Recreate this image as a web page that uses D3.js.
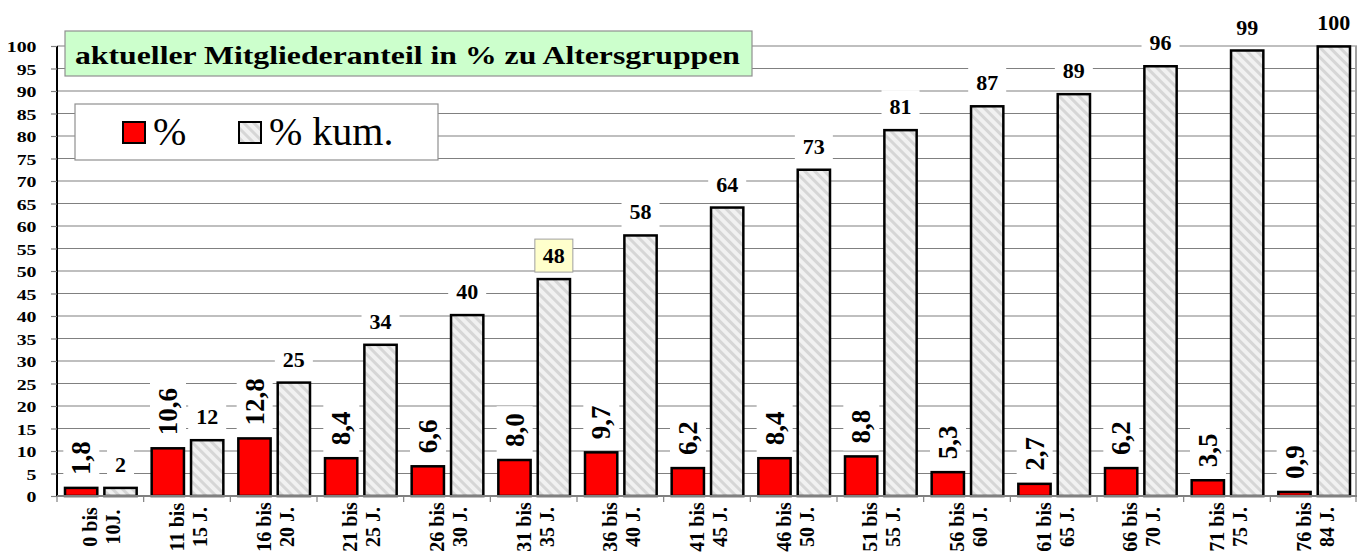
<!DOCTYPE html>
<html>
<head>
<meta charset="utf-8">
<script src="https://cdn.jsdelivr.net/npm/d3@7"></script>
<style>
  body { margin: 0; background: #fff; }
  svg text { font-family: "Liberation Serif", "Times New Roman", Times, serif; }
</style>
</head>
<body>
<div id="chart"></div>
<script>
/* DATA */
const ageFrom = ["0 bis", "11 bis", "16 bis", "21 bis", "26 bis", "31 bis", "36 bis", "41 bis",
                 "46 bis", "51 bis", "56 bis", "61 bis", "66 bis", "71 bis", "76 bis"];
const ageTo = ["10J.", "15 J.", "20 J.", "25 J.", "30 J.", "35 J.", "40 J.", "45 J.",
               "50 J.", "55 J.", "60 J.", "65 J.", "70 J.", "75 J.", "84 J."];
const pct = [1.8, 10.6, 12.8, 8.4, 6.6, 8.0, 9.7, 6.2, 8.4, 8.8, 5.3, 2.7, 6.2, 3.5, 0.9];
const pctKum = [1.8, 12.4, 25.2, 33.6, 40.2, 48.2, 57.9, 64.1, 72.5, 81.3, 86.6, 89.3, 95.5, 99.0, 99.9];
const yTicks = d3.range(0, 101, 5);
const seriesNames = ["%", "% kum."];
const title = "aktueller Mitgliederanteil in % zu Altersgruppen";
const highlightIndex = 5;

/* CONSTANTS */
const width = 1361, height = 555;
const m = { top: 46, bottom: 59, left: 57, right: 4 };
const gridColor = "#808080";

const svg = d3.select("#chart").append("svg")
  .attr("width", width)
  .attr("height", height);

const defs = svg.append("defs");
const hatch = defs.append("pattern")
  .attr("id", "hatch")
  .attr("patternUnits", "userSpaceOnUse")
  .attr("width", 7)
  .attr("height", 7)
  .attr("patternTransform", "rotate(-45)");
hatch.append("rect").attr("width", 7).attr("height", 7).attr("fill", "#f1f1f1");
hatch.append("rect").attr("width", 3).attr("height", 7).attr("fill", "#d6d6d6");

/* SCALES */
const cats = d3.range(ageFrom.length);
const x = d3.scaleBand()
  .domain(cats)
  .range([m.left, width - m.right]);

const xSub = d3.scaleBand()
  .domain(["pct", "kum"])
  .range([8, x.bandwidth() - 7])
  .paddingInner(0.18);

const y = d3.scaleLinear()
  .domain([0, 100])
  .range([height - m.bottom, m.top]);

// GRIDLINES
svg.append("g")
  .selectAll("line")
  .data(yTicks.filter(d => d > 0))
  .join("line")
  .attr("x1", m.left)
  .attr("x2", width - m.right)
  .attr("y1", d => y(d))
  .attr("y2", d => y(d))
  .attr("stroke", gridColor)
  .attr("stroke-width", 1.2);

// right border of plot area
svg.append("line")
  .attr("x1", width - m.right - 1).attr("x2", width - m.right - 1)
  .attr("y1", y(100)).attr("y2", y(0))
  .attr("stroke", "#a0a0a0").attr("stroke-width", 2);

// LABEL LAYER (white backgrounds that cut the gridlines)
const labelBg = svg.append("g");

// BARS
const groups = svg.append("g")
  .selectAll("g")
  .data(cats)
  .join("g")
  .attr("transform", i => `translate(${x(i)},0)`);

groups.append("rect")
  .attr("x", xSub("pct"))
  .attr("width", xSub.bandwidth())
  .attr("y", i => y(pct[i]))
  .attr("height", i => y(0) - y(pct[i]))
  .attr("fill", "#ff0000")
  .attr("stroke", "#000")
  .attr("stroke-width", 2.5);

groups.append("rect")
  .attr("x", xSub("kum"))
  .attr("width", xSub.bandwidth())
  .attr("y", i => y(pctKum[i]))
  .attr("height", i => y(0) - y(pctKum[i]))
  .attr("fill", "url(#hatch)")
  .attr("stroke", "#000")
  .attr("stroke-width", 2.5);

// VALUE LABELS
const fmt1 = d3.format(".1f");
const pctLabels = groups.append("text")
  .attr("transform", i => `translate(${xSub("pct") + xSub.bandwidth() / 2},${y(pct[i]) - 13}) rotate(-90)`)
  .attr("dy", "0.34em")
  .attr("font-size", 27)
  .attr("font-weight", "bold")
  .text(i => fmt1(pct[i]).replace(".", ","));

const kumLabels = groups.append("text")
  .attr("x", xSub("kum") + xSub.bandwidth() / 2)
  .attr("y", i => y(pctKum[i]) - 16)
  .attr("text-anchor", "middle")
  .attr("font-size", 22)
  .attr("font-weight", "bold")
  .text(i => d3.format(".0f")(pctKum[i]));

// white boxes behind labels, yellow box for the highlighted one
function addBg(sel, padX, padY) {
  sel.each(function(i) {
    const b = this.getBBox();
    const ctm = this.getCTM();
    const p1 = new DOMPoint(b.x, b.y).matrixTransform(ctm);
    const p2 = new DOMPoint(b.x + b.width, b.y + b.height).matrixTransform(ctm);
    const x0 = Math.min(p1.x, p2.x), x1 = Math.max(p1.x, p2.x);
    const y0 = Math.min(p1.y, p2.y), y1 = Math.max(p1.y, p2.y);
    const hl = sel === kumLabels && i === highlightIndex;
    labelBg.append("rect")
      .attr("x", x0 - padX)
      .attr("y", y0 - padY)
      .attr("width", x1 - x0 + padX * 2)
      .attr("height", y1 - y0 + padY * 2)
      .attr("fill", hl ? "#ffffcc" : "#fff")
      .attr("stroke", hl ? "#a0a0a0" : "none")
      .attr("stroke-width", 1);
  });
}
addBg(pctLabels, 3, 7);
addBg(kumLabels, 8, 4);

// Y AXIS (tick labels are stretched wide like in the original)
const yAxis = svg.append("g")
  .attr("transform", `translate(${m.left},0)`)
  .call(d3.axisLeft(y).tickValues(yTicks).tickSize(6).tickPadding(10));
yAxis.select(".domain").attr("stroke", "#000").attr("stroke-width", 2).attr("d", `M0,${y(0)}V${y(100)}`);
yAxis.selectAll(".tick line").attr("stroke", gridColor).attr("stroke-width", 1.2);
yAxis.selectAll(".tick text")
  .attr("font-family", "'Liberation Serif', 'Times New Roman', serif")
  .attr("font-size", 15.5)
  .attr("font-weight", "bold")
  .attr("fill", "#000")
  .attr("dy", "0.36em")
  .attr("transform", "scale(1.28,1)");

// X AXIS (baseline + boundary ticks)
svg.append("line")
  .attr("x1", m.left).attr("x2", width - m.right)
  .attr("y1", y(0)).attr("y2", y(0))
  .attr("stroke", gridColor).attr("stroke-width", 2);
svg.append("g")
  .selectAll("line")
  .data(cats.concat([cats.length]))
  .join("line")
  .attr("x1", i => i < cats.length ? x(i) : width - m.right - 1)
  .attr("x2", i => i < cats.length ? x(i) : width - m.right - 1)
  .attr("y1", y(0))
  .attr("y2", y(0) + 6)
  .attr("stroke", gridColor)
  .attr("stroke-width", 1.2);

const catLabels = svg.append("g")
  .selectAll("text")
  .data(cats)
  .join("text")
  .attr("transform", i => `translate(${x(i) + x.bandwidth() / 2},527) rotate(-90)`)
  .attr("text-anchor", "middle")
  .attr("font-size", 20)
  .attr("font-weight", "bold");
catLabels.append("tspan").attr("x", 0).attr("y", -3).text(i => ageFrom[i]);
catLabels.append("tspan").attr("x", 0).attr("y", 20).text(i => ageTo[i]);

// TITLE BOX
svg.append("rect")
  .attr("x", 65).attr("y", 31)
  .attr("width", 687).attr("height", 45)
  .attr("fill", "#ccffcc")
  .attr("stroke", "#909090")
  .attr("stroke-width", 1.2);
svg.append("text")
  .attr("transform", "translate(75,64) scale(1.27,1)")
  .attr("font-size", 25)
  .attr("font-weight", "bold")
  .text(title);

// LEGEND
const legend = svg.append("g");
legend.append("rect")
  .attr("x", 75).attr("y", 104)
  .attr("width", 363).attr("height", 56)
  .attr("fill", "#fff")
  .attr("stroke", "#909090")
  .attr("stroke-width", 1.2);
const legendX = [123, 239];
const legendFill = ["#ff0000", "url(#hatch)"];
seriesNames.forEach((name, i) => {
  legend.append("rect")
    .attr("x", legendX[i]).attr("y", 122)
    .attr("width", 22).attr("height", 21)
    .attr("fill", legendFill[i])
    .attr("stroke", "#000")
    .attr("stroke-width", 2);
  legend.append("text")
    .attr("x", legendX[i] + 30).attr("y", 145)
    .attr("font-size", 40)
    .text(name);
});
</script>
</body>
</html>
